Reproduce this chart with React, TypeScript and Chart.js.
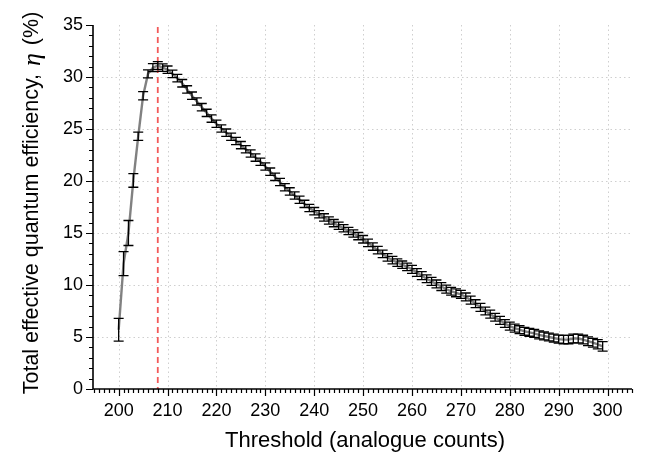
import { useEffect, useRef } from "react";
import { Chart, registerables } from "chart.js";

Chart.register(...registerables);

const thresholds = [
  200, 201, 202, 203, 204, 205, 206, 207, 208, 209,
  210, 211, 212, 213, 214, 215, 216, 217, 218, 219,
  220, 221, 222, 223, 224, 225, 226, 227, 228, 229,
  230, 231, 232, 233, 234, 235, 236, 237, 238, 239,
  240, 241, 242, 243, 244, 245, 246, 247, 248, 249,
  250, 251, 252, 253, 254, 255, 256, 257, 258, 259,
  260, 261, 262, 263, 264, 265, 266, 267, 268, 269,
  270, 271, 272, 273, 274, 275, 276, 277, 278, 279,
  280, 281, 282, 283, 284, 285, 286, 287, 288, 289,
  290, 291, 292, 293, 294, 295, 296, 297, 298, 299,
];

const efficiency = [
  5.7, 12.05, 15.0, 20.05, 24.3, 28.2, 30.3, 30.9, 31.1, 30.9,
  30.7, 30.3, 29.9, 29.4, 28.8, 28.2, 27.65, 27.1, 26.55, 26.0,
  25.5, 25.05, 24.65, 24.25, 23.85, 23.45, 23.05, 22.65, 22.25, 21.85,
  21.4, 20.9, 20.4, 19.9, 19.4, 19.0, 18.6, 18.2, 17.8, 17.4,
  17.1, 16.8, 16.5, 16.2, 15.95, 15.7, 15.45, 15.2, 14.95, 14.7,
  14.4, 14.05, 13.7, 13.35, 13.0, 12.65, 12.4, 12.15, 11.95, 11.75,
  11.5, 11.2, 10.9, 10.6, 10.35, 10.1, 9.85, 9.6, 9.4, 9.25,
  9.1, 8.85, 8.55, 8.2, 7.85, 7.5, 7.2, 6.9, 6.6, 6.3,
  6.05, 5.85, 5.7, 5.55, 5.45, 5.35, 5.2, 5.1, 5.0, 4.9,
  4.8, 4.75, 4.75, 4.85, 4.85, 4.75, 4.6, 4.45, 4.3, 4.1,
];

const errors = [
  1.1, 1.15, 1.2, 0.65, 0.4, 0.4, 0.38, 0.38, 0.38, 0.36,
  0.36, 0.36, 0.36, 0.36, 0.36, 0.36, 0.35, 0.35, 0.35, 0.35,
  0.35, 0.35, 0.35, 0.35, 0.35, 0.35, 0.35, 0.35, 0.35, 0.35,
  0.35, 0.35, 0.35, 0.35, 0.35, 0.35, 0.35, 0.35, 0.35, 0.35,
  0.35, 0.35, 0.35, 0.35, 0.35, 0.35, 0.35, 0.35, 0.35, 0.35,
  0.36, 0.36, 0.36, 0.36, 0.36, 0.36, 0.36, 0.36, 0.36, 0.36,
  0.38, 0.38, 0.38, 0.38, 0.38, 0.38, 0.38, 0.38, 0.38, 0.38,
  0.38, 0.38, 0.38, 0.38, 0.38, 0.38, 0.38, 0.38, 0.38, 0.38,
  0.38, 0.38, 0.38, 0.38, 0.38, 0.38, 0.38, 0.38, 0.38, 0.38,
  0.38, 0.4, 0.4, 0.42, 0.42, 0.42, 0.42, 0.42, 0.45, 0.45,
];

const xMajorTicks = [200, 210, 220, 230, 240, 250, 260, 270, 280, 290, 300];
const yMajorTicks = [0, 5, 10, 15, 20, 25, 30, 35];
const xGridLines = [200, 210, 220, 230, 240, 250, 260, 270, 280, 290, 300];
const yGridLines = [5, 10, 15, 20, 25, 30];
const peakThreshold = 208;

const xTitle = "Threshold (analogue counts)";
const yTitleStart = "Total effective quantum efficiency, ";
const yTitleSymbol = "\u03B7";
const yTitleEnd = " (%)";

const SANS = "'Liberation Sans', Arial, sans-serif";

const decorPlugin = {
  id: "decor",
  beforeDatasetsDraw(chart: any) {
    const { ctx, chartArea } = chart;
    const xs = chart.scales.x;
    const ys = chart.scales.y;
    ctx.save();
    ctx.strokeStyle = "#cfcfcf";
    ctx.lineWidth = 1;
    ctx.setLineDash([1.5, 3]);
    for (const v of xGridLines) {
      const px = Math.round(xs.getPixelForValue(v)) + 0.5;
      ctx.beginPath();
      ctx.moveTo(px, chartArea.top);
      ctx.lineTo(px, chartArea.bottom);
      ctx.stroke();
    }
    for (const v of yGridLines) {
      const py = Math.round(ys.getPixelForValue(v)) + 0.5;
      ctx.beginPath();
      ctx.moveTo(chartArea.left, py);
      ctx.lineTo(chartArea.right, py);
      ctx.stroke();
    }
    // red dashed marker
    ctx.strokeStyle = "#f25a5a";
    ctx.lineWidth = 1.8;
    ctx.setLineDash([6, 4]);
    const rx = xs.getPixelForValue(peakThreshold);
    ctx.beginPath();
    ctx.moveTo(rx, chartArea.top + 2);
    ctx.lineTo(rx, chartArea.bottom);
    ctx.stroke();
    ctx.restore();
  },
  afterDatasetsDraw(chart: any) {
    const { ctx, chartArea } = chart;
    const xs = chart.scales.x;
    const ys = chart.scales.y;
    ctx.save();
    // error bars
    ctx.strokeStyle = "#000";
    ctx.lineWidth = 1.3;
    ctx.setLineDash([]);
    const cap = 5;
    for (let i = 0; i < thresholds.length; i++) {
      const px = xs.getPixelForValue(thresholds[i]);
      const top = ys.getPixelForValue(efficiency[i] + errors[i]);
      const bot = ys.getPixelForValue(efficiency[i] - errors[i]);
      ctx.beginPath();
      ctx.moveTo(px, top);
      ctx.lineTo(px, bot);
      ctx.moveTo(px - cap, top);
      ctx.lineTo(px + cap, top);
      ctx.moveTo(px - cap, bot);
      ctx.lineTo(px + cap, bot);
      ctx.stroke();
    }
    // axes
    ctx.strokeStyle = "#000";
    ctx.lineWidth = 1.6;
    ctx.beginPath();
    ctx.moveTo(chartArea.left, chartArea.top);
    ctx.lineTo(chartArea.left, chartArea.bottom);
    ctx.lineTo(chartArea.right, chartArea.bottom);
    ctx.stroke();
    // ticks
    ctx.lineWidth = 1.2;
    ctx.beginPath();
    for (let v = Math.ceil(xs.min); v <= Math.floor(xs.max); v++) {
      const px = Math.round(xs.getPixelForValue(v)) + 0.5;
      const len = v % 10 === 0 ? 7 : 4;
      ctx.moveTo(px, chartArea.bottom);
      ctx.lineTo(px, chartArea.bottom + len);
    }
    for (let v = Math.ceil(ys.min); v <= Math.floor(ys.max); v++) {
      const py = Math.round(ys.getPixelForValue(v)) + 0.5;
      const len = v % 5 === 0 ? 7 : 4;
      ctx.moveTo(chartArea.left, py);
      ctx.lineTo(chartArea.left - len, py);
    }
    ctx.stroke();
    ctx.restore();
  },
  afterDraw(chart: any) {
    const { ctx, chartArea } = chart;
    ctx.save();
    ctx.fillStyle = "#000";
    // x title
    ctx.font = `22px ${SANS}`;
    ctx.textAlign = "center";
    ctx.textBaseline = "middle";
    ctx.fillText(xTitle, 365, 441);
    // y title, rotated, with italic eta
    const sansFont = `21.5px ${SANS}`;
    const etaFont = `italic 26px 'Liberation Serif', 'DejaVu Serif', serif`;
    ctx.font = sansFont;
    const w1 = ctx.measureText(yTitleStart).width;
    const w3 = ctx.measureText(yTitleEnd).width;
    ctx.font = etaFont;
    const w2 = ctx.measureText(yTitleSymbol).width + 4;
    const total = w1 + w2 + w3;
    const cy = 203;
    ctx.translate(32, cy);
    ctx.rotate(-Math.PI / 2);
    ctx.textAlign = "left";
    ctx.textBaseline = "middle";
    let x0 = -total / 2;
    ctx.font = sansFont;
    ctx.fillText(yTitleStart, x0, 0);
    x0 += w1;
    ctx.font = etaFont;
    ctx.fillText(yTitleSymbol, x0 + 2, 1);
    x0 += w2;
    ctx.font = sansFont;
    ctx.fillText(yTitleEnd, x0, 0);
    ctx.restore();
  },
};

export default function App() {
  const canvasRef = useRef<HTMLCanvasElement | null>(null);

  useEffect(() => {
    if (!canvasRef.current) return;
    const points = thresholds.map((t, i) => ({ x: t, y: efficiency[i] }));
    const chart = new Chart(canvasRef.current, {
      type: "line",
      data: {
        datasets: [
          {
            label: "eta",
            data: points,
            borderColor: "rgba(115,115,115,0.9)",
            borderWidth: 2.4,
            pointRadius: 0,
            tension: 0,
            fill: false,
          },
        ],
      },
      options: {
        animation: false,
        responsive: true,
        maintainAspectRatio: false,
        layout: { padding: { left: 0, top: 25, right: 23, bottom: 0 } },
        plugins: {
          legend: { display: false },
          tooltip: { enabled: false },
        },
        scales: {
          x: {
            type: "linear",
            min: 194.75,
            max: 305,
            grid: { display: false, drawTicks: false },
            border: { display: false },
            afterBuildTicks: (scale: any) => {
              scale.ticks = xMajorTicks.map((v) => ({ value: v }));
            },
            afterFit: (scale: any) => {
              scale.height = 70;
            },
            ticks: {
              padding: 11,
              color: "#000",
              font: { family: SANS, size: 18 },
              maxRotation: 0,
              autoSkip: false,
              callback: (v: any) => String(v),
            },
          },
          y: {
            type: "linear",
            min: 0,
            max: 35,
            grid: { display: false, drawTicks: false },
            border: { display: false },
            afterBuildTicks: (scale: any) => {
              scale.ticks = yMajorTicks.map((v) => ({ value: v }));
            },
            afterFit: (scale: any) => {
              scale.width = 93;
            },
            ticks: {
              padding: 10,
              color: "#000",
              font: { family: SANS, size: 18 },
              autoSkip: false,
              callback: (v: any) => String(v),
            },
          },
        },
      },
      plugins: [decorPlugin],
    });
    return () => chart.destroy();
  }, []);

  return (
    <div
      style={{
        position: "fixed",
        left: 0,
        top: 0,
        width: 655,
        height: 459,
        background: "#fff",
      }}
    >
      <canvas ref={canvasRef} />
    </div>
  );
}
